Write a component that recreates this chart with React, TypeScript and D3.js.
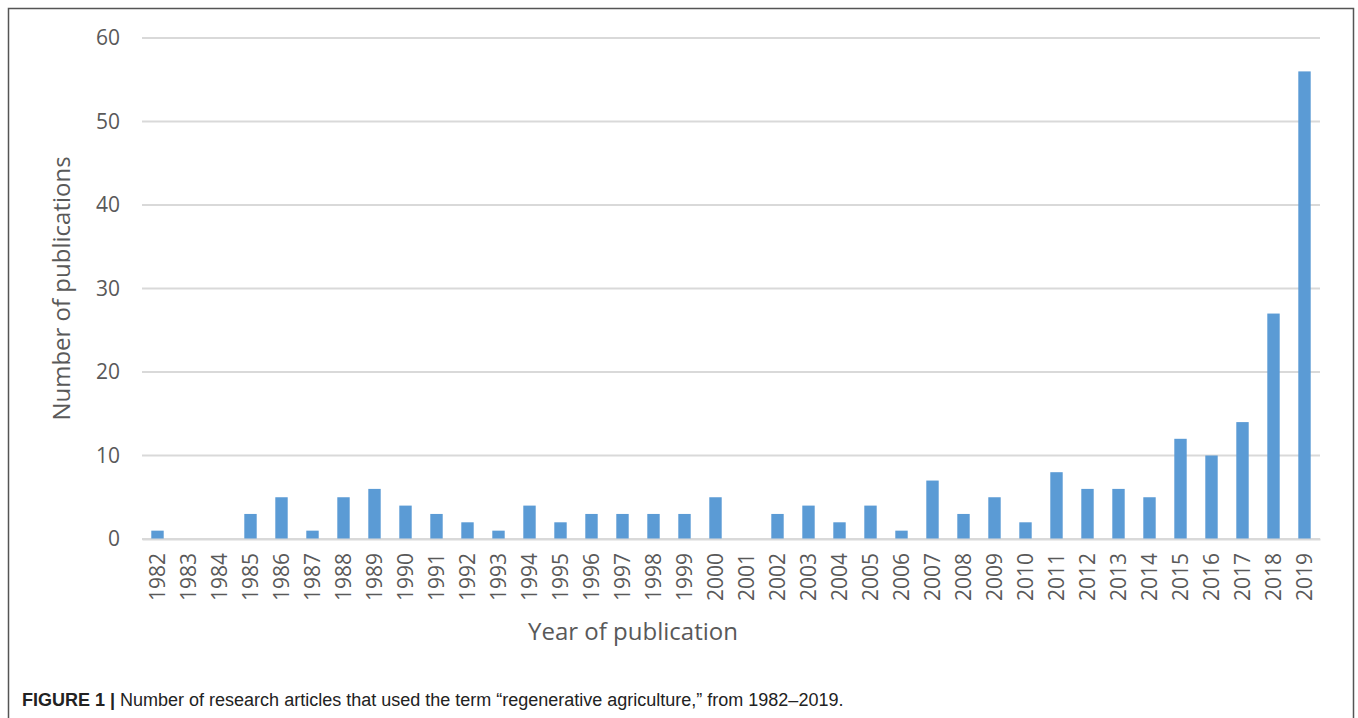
import React, { useEffect, useRef } from 'react';
import * as d3 from 'd3';

const years = [
  '1982', '1983', '1984', '1985', '1986', '1987', '1988', '1989', '1990', '1991',
  '1992', '1993', '1994', '1995', '1996', '1997', '1998', '1999', '2000', '2001',
  '2002', '2003', '2004', '2005', '2006', '2007', '2008', '2009', '2010', '2011',
  '2012', '2013', '2014', '2015', '2016', '2017', '2018', '2019',
];
const publications = [
  1, 0, 0, 3, 5, 1, 5, 6, 4, 3,
  2, 1, 4, 2, 3, 3, 3, 3, 5, 0,
  3, 4, 2, 4, 1, 7, 3, 5, 2, 8,
  6, 6, 5, 12, 10, 14, 27, 56,
];
const yTicks = [0, 10, 20, 30, 40, 50, 60];

const App: React.FC = () => {
  const svgRef = useRef<SVGSVGElement | null>(null);

  useEffect(() => {
    if (!svgRef.current) return;
    const width = 1358;
    const height = 718;
    const margin = { top: 38, right: 38, bottom: 179, left: 142 };
    const font = '"Open Sans", sans-serif';

    const svg = d3.select(svgRef.current).attr('width', width).attr('height', height);
    svg.selectAll('*').remove();

    svg.append('rect').attr('width', width).attr('height', height).attr('fill', '#fff');

    // frame around the figure
    svg
      .append('path')
      .attr('d', `M8.5,${height} V8.5 H1353.5 V${height}`)
      .attr('fill', 'none')
      .attr('stroke', '#555')
      .attr('stroke-width', 1.5);

    const x = d3
      .scaleBand()
      .domain(years)
      .range([margin.left, width - margin.right])
      .paddingInner(0.6)
      .paddingOuter(0.3);

    const y = d3
      .scaleLinear()
      .domain([0, 60])
      .range([height - margin.bottom, margin.top]);

    // gridlines
    svg
      .append('g')
      .selectAll('line')
      .data(yTicks)
      .enter()
      .append('line')
      .attr('x1', margin.left)
      .attr('x2', width - margin.right)
      .attr('y1', (d) => y(d))
      .attr('y2', (d) => y(d))
      .attr('stroke', '#d9d9d9')
      .attr('stroke-width', 2);

    const yAxis = d3.axisLeft(y).tickValues(yTicks).tickSize(0).tickPadding(0);
    const gy = svg
      .append('g')
      .attr('transform', `translate(${margin.left - 22}, 0)`)
      .call(yAxis);
    gy.select('.domain').remove();
    gy.selectAll('text')
      .attr('font-family', font)
      .attr('font-size', 21)
      .attr('fill', '#595959');

    // bars
    svg
      .append('g')
      .selectAll('rect')
      .data(publications)
      .enter()
      .append('rect')
      .attr('x', (d, i) => x(years[i])!)
      .attr('y', (d) => y(d))
      .attr('width', x.bandwidth())
      .attr('height', (d) => y(0) - y(d))
      .attr('fill', '#5b9bd5');

    const xAxis = d3.axisBottom(x).tickSize(0).tickPadding(0);
    const gx = svg
      .append('g')
      .attr('transform', `translate(0, ${y(0)})`)
      .call(xAxis);
    gx.select('.domain').attr('stroke', '#d9d9d9').attr('stroke-width', 2);
    gx.selectAll('text')
      .attr('font-family', font)
      .attr('font-size', 21)
      .attr('fill', '#595959')
      .attr('transform', 'rotate(-90)')
      .attr('text-anchor', 'end')
      .attr('dy', '0.35em')
      .attr('x', -14)
      .attr('y', 0);

    svg
      .append('text')
      .attr('x', 633)
      .attr('y', 640)
      .attr('text-anchor', 'middle')
      .attr('font-family', font)
      .attr('font-size', 24)
      .attr('fill', '#595959')
      .text('Year of publication');

    svg
      .append('text')
      .attr('transform', `translate(70, ${(y(0) + y(60)) / 2}) rotate(-90)`)
      .attr('text-anchor', 'middle')
      .attr('font-family', font)
      .attr('font-size', 24)
      .attr('fill', '#595959')
      .text('Number of publications');

    const caption = svg
      .append('text')
      .attr('x', 22)
      .attr('y', 706)
      .attr('font-family', '"Liberation Sans", Arial, sans-serif')
      .attr('font-size', 18)
      .attr('fill', '#222');
    caption.append('tspan').attr('font-weight', 'bold').text('FIGURE 1 | ');
    caption
      .append('tspan')
      .text('Number of research articles that used the term \u201Cregenerative agriculture,\u201D from 1982\u20132019.');
  }, []);

  return <svg ref={svgRef} style={{ position: 'absolute', left: 0, top: 0 }}></svg>;
};

export default App;
